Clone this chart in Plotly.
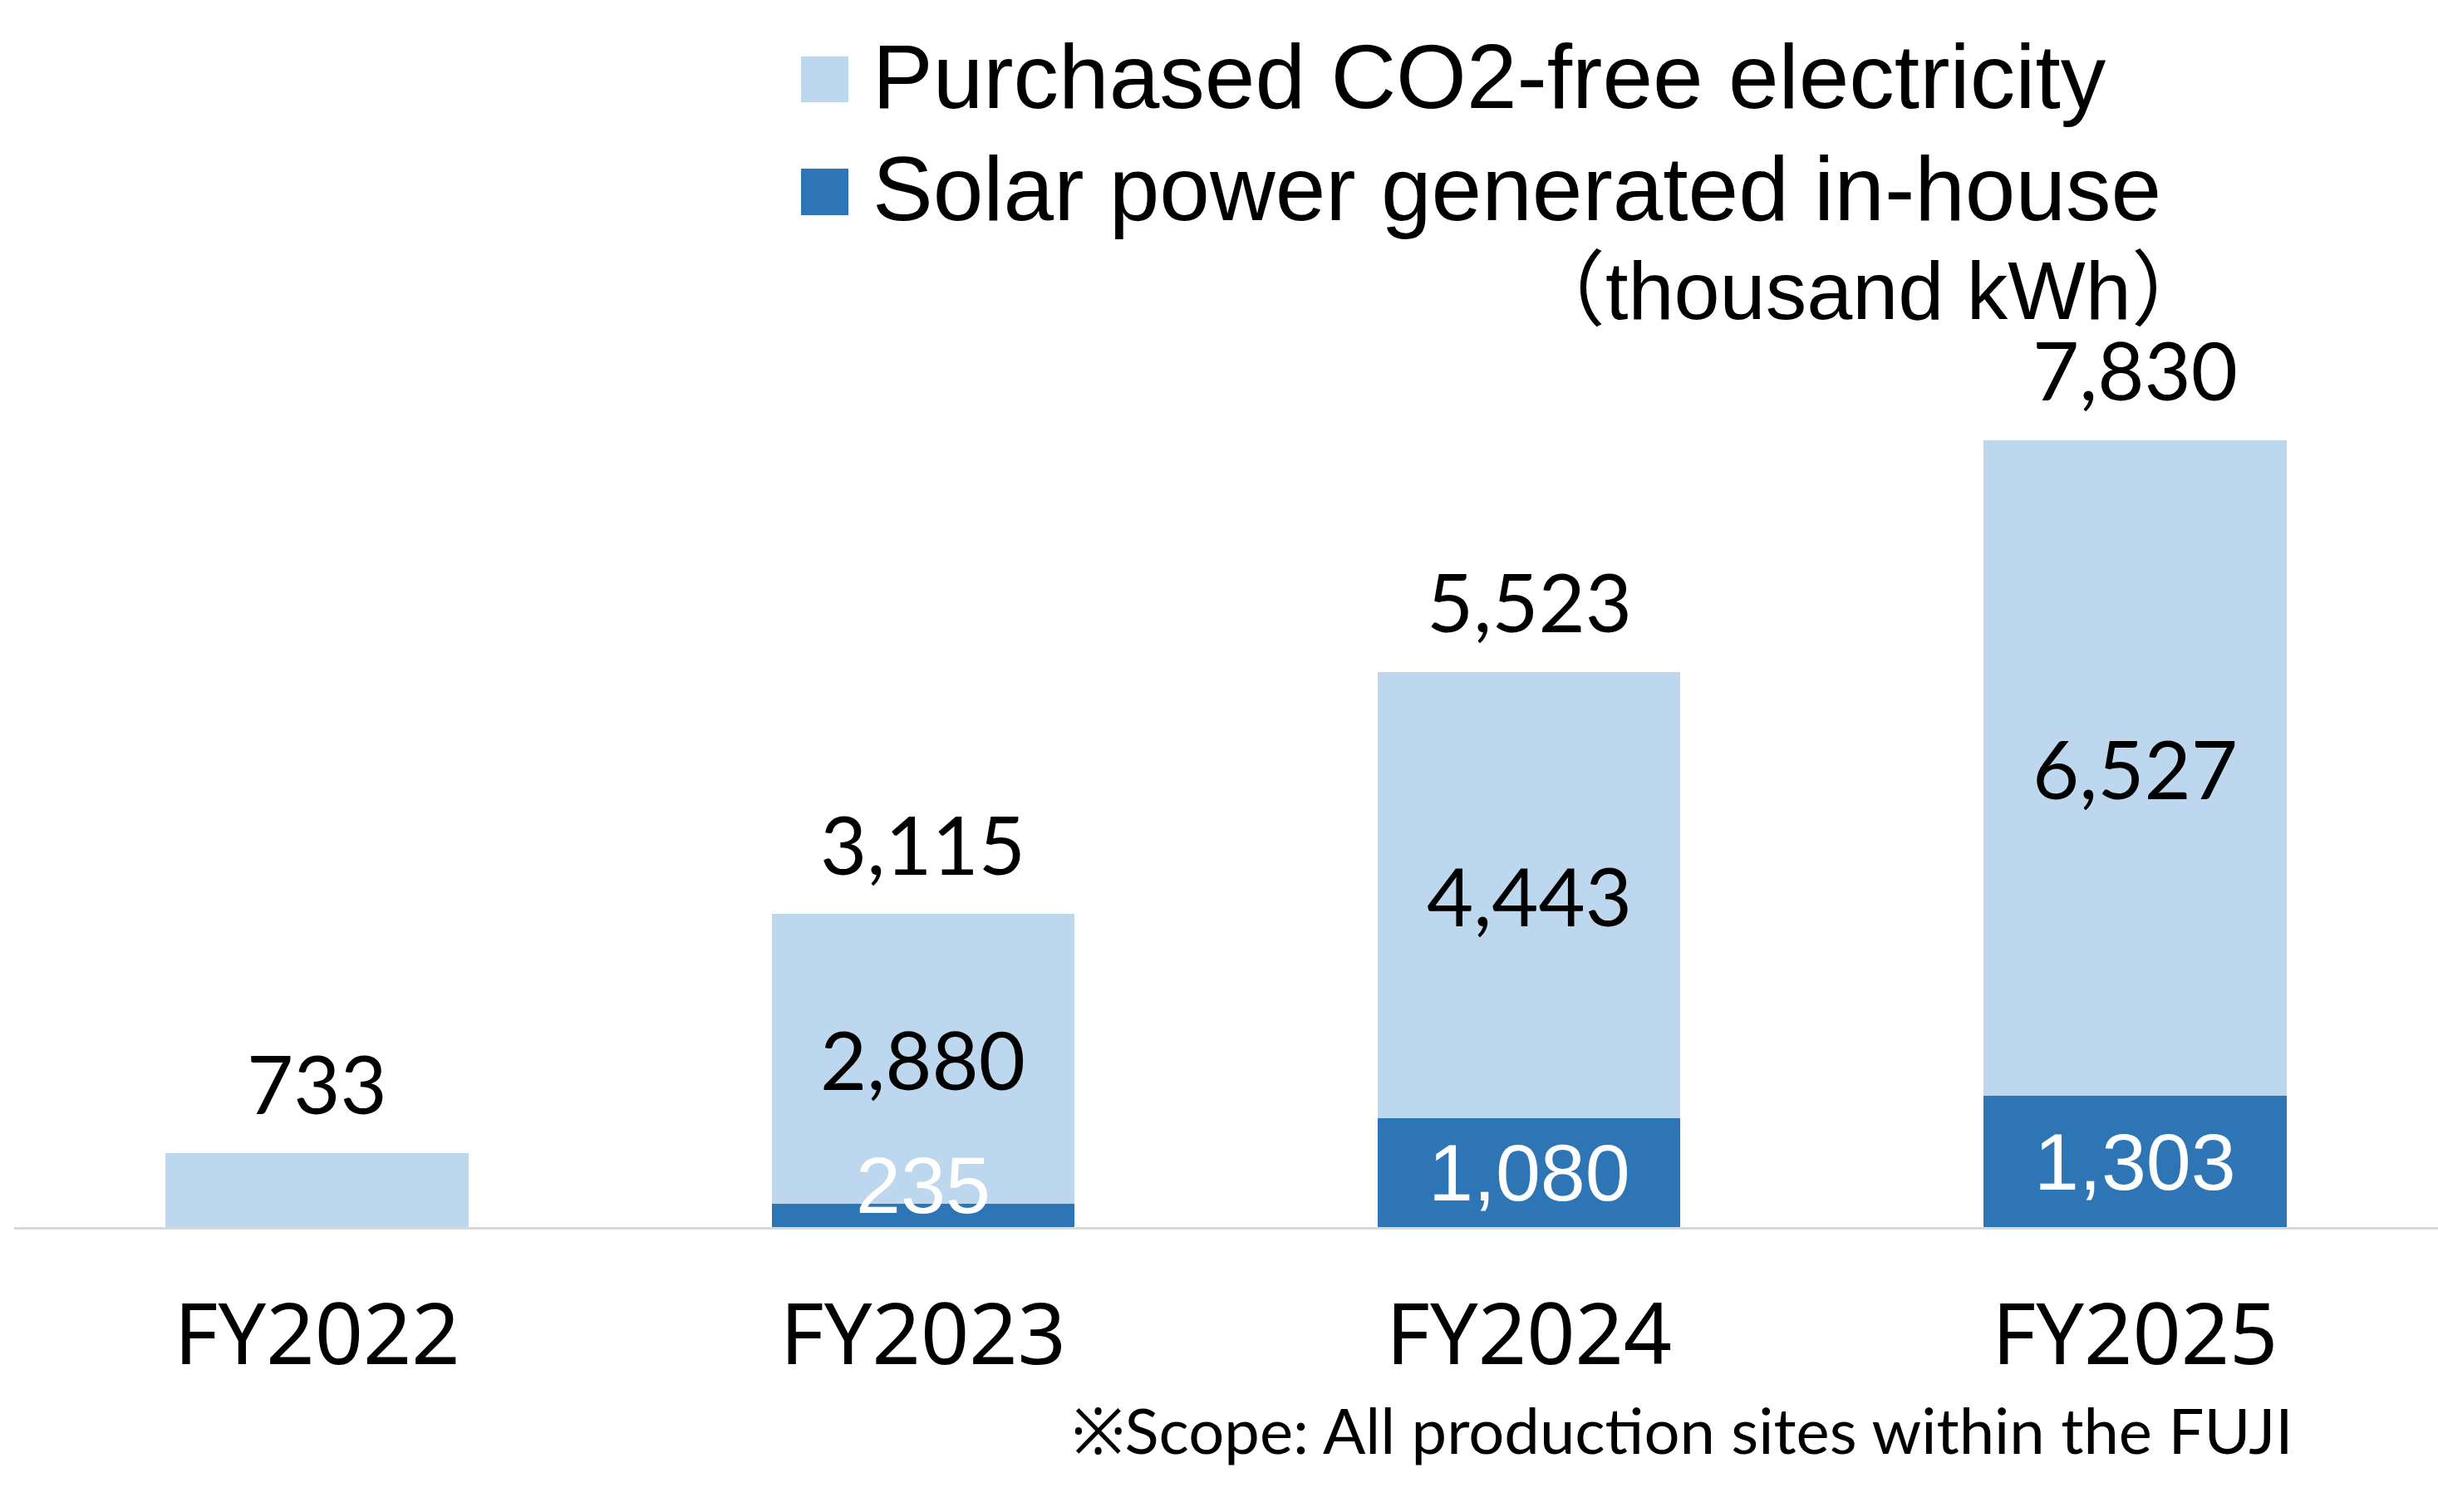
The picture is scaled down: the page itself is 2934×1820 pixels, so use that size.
import plotly.graph_objects as go

# ---- data ----
categories = ["FY2022", "FY2023", "FY2024", "FY2025"]
solar = [0, 235, 1080, 1303]            # Solar power generated in-house
purchased = [733, 2880, 4443, 6527]     # Purchased CO2-free electricity
totals = [733, 3115, 5523, 7830]
series_names = ["Purchased CO2-free electricity", "Solar power generated in-house"]
unit_label = "（thousand kWh）"
footnote = "※Scope: All production sites within the FUJI"

# ---- style / geometry ----
W, H = 2934, 1820
ML, MR, MT, MB = 17, 0, 0, 343
PLOT_W = W - ML - MR
PLOT_H = H - MT - MB
PX_PER_UNIT = 0.121
Y_MAX = PLOT_H / PX_PER_UNIT

C_LIGHT = "#BDD7EE"
C_DARK = "#2E75B6"
NUM_FONT = "Lato, Noto Sans, sans-serif"
ARIAL = "Liberation Sans, Arial, Noto Sans CJK JP, sans-serif"


def px_x(px):
    return (px - ML) / PLOT_W


def px_y(py):
    return (H - MB - py) / PLOT_H


fig = go.Figure()
fig.add_trace(go.Bar(x=categories, y=solar, name=series_names[1],
                     marker=dict(color=C_DARK, line=dict(width=0)),
                     showlegend=False, hoverinfo="skip"))
fig.add_trace(go.Bar(x=categories, y=purchased, name=series_names[0],
                     marker=dict(color=C_LIGHT, line=dict(width=0)),
                     showlegend=False, hoverinfo="skip"))

annotations = []
min_label_units = 51 / PX_PER_UNIT
for cat, s, p, t in zip(categories, solar, purchased, totals):
    # total above the bar
    annotations.append(dict(x=cat, y=t, xref="x", yref="y", text=f"{t:,}",
                            showarrow=False, yanchor="middle", yshift=85,
                            font=dict(family=NUM_FONT, size=97, color="black")))
    if s > 0:
        annotations.append(dict(x=cat, y=s + p / 2, xref="x", yref="y", text=f"{p:,}",
                                showarrow=False, yanchor="middle",
                                font=dict(family=NUM_FONT, size=97, color="black")))
        annotations.append(dict(x=cat, y=max(s / 2, min_label_units), xref="x", yref="y",
                                text=f"{s:,}", showarrow=False, yanchor="middle",
                                font=dict(family=ARIAL, size=97, color="white")))

# legend (manual)
shapes = []
legend_items = [(series_names[0], C_LIGHT, 68, 123, 92),
                (series_names[1], C_DARK, 203, 259, 227)]
for name, col, y0, y1, yc in legend_items:
    shapes.append(dict(type="rect", xref="paper", yref="paper",
                       x0=px_x(964), x1=px_x(1021), y0=px_y(y1), y1=px_y(y0),
                       fillcolor=col, line=dict(width=0)))
    annotations.append(dict(x=px_x(1048), y=px_y(yc), xref="paper", yref="paper",
                            text=name, showarrow=False, xanchor="left", yanchor="middle",
                            font=dict(family=ARIAL, size=109, color="black")))

annotations.append(dict(x=px_x(2666), y=px_y(349), xref="paper", yref="paper",
                        text=unit_label, showarrow=False, xanchor="right", yanchor="middle",
                        font=dict(family=ARIAL, size=99, color="black")))
annotations.append(dict(x=px_x(2762), y=px_y(1720), xref="paper", yref="paper",
                        text=footnote, showarrow=False, xanchor="right", yanchor="middle",
                        font=dict(family=NUM_FONT, size=76, color="black")))

fig.update_layout(
    width=W, height=H,
    margin=dict(l=ML, r=MR, t=MT, b=MB, pad=0),
    barmode="stack", bargap=0.5,
    plot_bgcolor="white", paper_bgcolor="white",
    annotations=annotations, shapes=shapes,
    xaxis=dict(range=[-0.5, 3.5], showgrid=False, zeroline=False,
               showline=True, linecolor="#D9D9D9", linewidth=3,
               ticks="", ticklabelstandoff=40,
               tickfont=dict(family="Noto Sans, sans-serif", size=102, color="black")),
    yaxis=dict(range=[0, Y_MAX], visible=False, showgrid=False, zeroline=False),
)

fig.write_html("out.html")
